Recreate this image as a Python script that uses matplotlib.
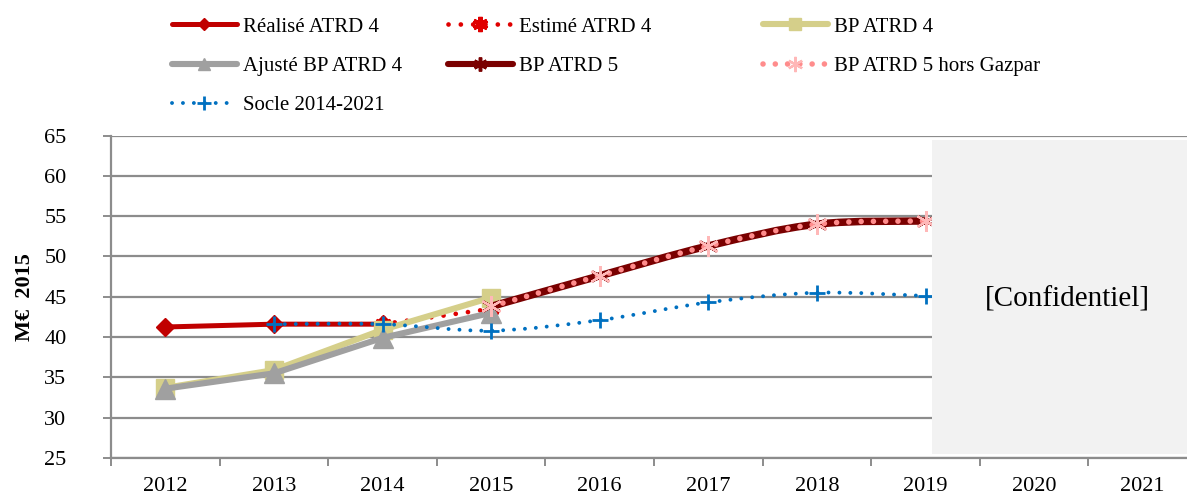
import matplotlib
matplotlib.use("Agg")
import matplotlib.pyplot as plt
from matplotlib.lines import Line2D
from matplotlib.patches import PathPatch, Rectangle
from matplotlib.path import Path

plt.rcParams["font.family"] = ["Liberation Serif", "DejaVu Serif"]

years = [2012, 2013, 2014, 2015, 2016, 2017, 2018, 2019, 2020, 2021]

realise_x = [2012, 2013, 2014]
realise_y = [41.25, 41.6, 41.6]

estime_x = [2014, 2015]
estime_y = [41.6, 43.5]

bp4_x = [2012, 2013, 2014, 2015]
bp4_y = [33.7, 35.9, 40.9, 44.9]

ajuste_x = [2012, 2013, 2014, 2015]
ajuste_y = [33.6, 35.5, 39.9, 43.0]

bp5_x = [2015, 2016, 2017, 2018, 2019]
bp5_y = [43.8, 47.6, 51.3, 54.0, 54.4]

gazpar_x = [2015, 2016, 2017, 2018, 2019]
gazpar_y = [43.8, 47.6, 51.3, 54.0, 54.4]

socle_x = [2013, 2014, 2015, 2016, 2017, 2018, 2019]
socle_y = [41.6, 41.6, 40.8, 42.1, 44.3, 45.5, 45.1]


def idx(xs):
    return [years.index(x) for x in xs]


def smooth_path(xs, ys):
    # courbe lissée façon Excel (Catmull-Rom -> Bézier)
    pts = list(zip(xs, ys))
    verts = [pts[0]]
    codes = [Path.MOVETO]
    n = len(pts)
    for i in range(n - 1):
        p0 = pts[i - 1] if i > 0 else pts[i]
        p1 = pts[i]
        p2 = pts[i + 1]
        p3 = pts[i + 2] if i + 2 < n else pts[i + 1]
        c1 = (p1[0] + (p2[0] - p0[0]) / 6, p1[1] + (p2[1] - p0[1]) / 6)
        c2 = (p2[0] - (p3[0] - p1[0]) / 6, p2[1] - (p3[1] - p1[1]) / 6)
        verts += [c1, c2, p2]
        codes += [Path.CURVE4] * 3
    return Path(verts, codes)


W, H = 1187, 497
fig = plt.figure(figsize=(W / 100, H / 100), dpi=100)
ax = fig.add_axes([111 / W, 39 / H, 1086 / W, 322.5 / H])

ax.set_xlim(-0.5, 9.5)
ax.set_ylim(25, 65)
ax.set_yticks(range(25, 66, 5))
ax.set_xticks(range(len(years)))
ax.set_xticklabels([str(y) for y in years])
ax.set_xticks([i + 0.5 for i in range(-1, len(years))], minor=True)

grid_c = "#8c8c8c"
ax.grid(axis="y", color=grid_c, lw=1.6, zorder=0)
ax.set_axisbelow(True)
for s in ["top", "right"]:
    ax.spines[s].set_visible(False)
for s in ["left", "bottom"]:
    ax.spines[s].set_color(grid_c)
    ax.spines[s].set_linewidth(1.6)
ax.tick_params(axis="y", which="major", length=6, width=1.4, color=grid_c,
               labelsize=16, pad=26)
ax.tick_params(axis="x", which="major", length=0, labelsize=16, pad=14)
ax.tick_params(axis="x", which="minor", length=6, width=1.4, color=grid_c)
ax.set_ylabel("M€  2015", fontsize=16, fontweight="bold", labelpad=7)

red = "#c00000"
red2 = "#e00000"
khaki = "#d5cf8a"
gray = "#a0a0a0"
dark = "#7a0000"
pink = "#ff8c8c"
pink_m = "#ffb8b8"
blue = "#0070c0"
star = (6, 2, 0)

dots_red = dict(ls=(0, (0.01, 2.6)), dash_capstyle="round")
dots_pink = dict(ls=(0, (0.01, 2.2)), dash_capstyle="round")
dots_blue = dict(ls=(0, (0.01, 2.8)), dash_capstyle="round")

ax.plot(idx(realise_x), realise_y, color=red, lw=3.6, marker="D", ms=9.5,
        solid_capstyle="round", zorder=3)
ax.plot(idx(estime_x), estime_y, color=red2, lw=3.4, marker=star, ms=12,
        mew=2.5, zorder=3, **dots_red)
ax.plot(idx(bp4_x), bp4_y, color=khaki, lw=4.4, marker="s", ms=13.5,
        solid_capstyle="round", zorder=4)
ax.plot(idx(ajuste_x), ajuste_y, color=gray, lw=4.4, marker="^", ms=14,
        solid_capstyle="round", zorder=5)

ax.add_patch(PathPatch(smooth_path(idx(bp5_x), bp5_y), fill=False,
                       edgecolor=dark, lw=5.4, zorder=6))
ax.plot(idx(bp5_x), bp5_y, ls="none", marker=star, ms=14, mew=2,
        color=dark, zorder=6)
ax.add_patch(PathPatch(smooth_path(idx(gazpar_x), gazpar_y), fill=False,
                       edgecolor=pink, lw=4.0, zorder=7, capstyle="round",
                       linestyle=(0, (0.01, 2.2))))
ax.plot(idx(gazpar_x), gazpar_y, ls="none", marker=star, ms=15, mew=1.6,
        color=pink_m, zorder=7)

ax.add_patch(PathPatch(smooth_path(idx(socle_x), socle_y), fill=False,
                       edgecolor=blue, lw=2.8, zorder=8, capstyle="round",
                       linestyle=(0, (0.01, 2.8))))
ax.plot(idx(socle_x), socle_y, ls="none", marker="+", ms=12, mew=2,
        color=blue, zorder=8)

# zone masquée
ax.add_patch(Rectangle((7.06, 25.5), 3.0, 38.95, facecolor="#f2f2f2",
                       edgecolor="none", zorder=10, clip_on=False))
ax.text(8.31, 44.7, "[Confidentiel]", fontsize=21, ha="center",
        va="center", zorder=11)

h_realise = Line2D([], [], color=red, lw=3.6, marker="D", ms=6,
                   solid_capstyle="round")
h_estime = Line2D([], [], color=red2, lw=3.4, marker=star, ms=11, mew=3,
                  **dots_red)
h_bp4 = Line2D([], [], color=khaki, lw=4.4, marker="s", ms=9,
               solid_capstyle="round")
h_ajuste = Line2D([], [], color=gray, lw=4.4, marker="^", ms=9,
                  solid_capstyle="round")
h_bp5 = Line2D([], [], color=dark, lw=4.4, marker=star, ms=10, mew=2.5,
               solid_capstyle="round")
h_gazpar = Line2D([], [], color=pink, lw=4.0, marker=star, ms=11, mew=1.6,
                  mec=pink_m, **dots_pink)
h_socle = Line2D([], [], color=blue, lw=2.8, marker="+", ms=10, mew=2,
                 **dots_blue)

columns = [
    (172, [h_realise, h_ajuste, h_socle],
     ["Réalisé ATRD 4", "Ajusté BP ATRD 4", "Socle 2014-2021"]),
    (448, [h_estime, h_bp5], ["Estimé ATRD 4", "BP ATRD 5"]),
    (763, [h_bp4, h_gazpar], ["BP ATRD 4", "BP ATRD 5 hors Gazpar"]),
]
for x0, hs, labels in columns:
    fig.legend(hs, labels, loc="upper left",
               bbox_to_anchor=(x0 / W, 1 - 17 / H), frameon=False,
               fontsize=15, handlelength=3.1, handletextpad=0.3,
               borderpad=0, borderaxespad=0, labelspacing=0.95)

fig.savefig("out.png", dpi=100)
